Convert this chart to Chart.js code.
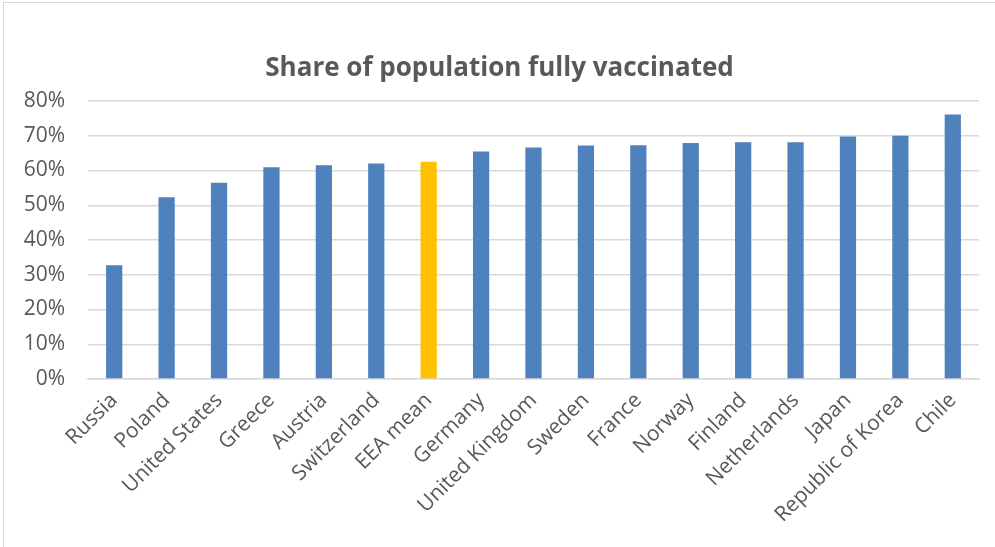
<!DOCTYPE html>
<html><head><meta charset="utf-8">
<script src="https://cdn.jsdelivr.net/npm/chart.js@4"></script>
<style>
html,body{margin:0;padding:0;background:#fff;overflow:hidden;width:995px;height:547px;}
#frame{position:absolute;left:3px;top:2px;width:1012px;height:560px;border:1px solid #d9d9d9;box-sizing:border-box;}
#wrap{position:absolute;left:0;top:0;width:1010px;height:544px;}
</style></head><body>
<div id="frame"><div id="wrap"><canvas id="c"></canvas></div></div>
<script>
const categories = ["Russia","Poland","United States","Greece","Austria","Switzerland","EEA mean","Germany","United Kingdom","Sweden","France","Norway","Finland","Netherlands","Japan","Republic of Korea","Chile"];
const shareVaccinated = [32.7,52.3,56.5,60.9,61.5,62.0,62.5,65.5,66.6,67.2,67.3,67.9,68.1,68.1,69.8,70.0,76.1];
const highlighted = ["EEA mean"];
const yTicks = [0,10,20,30,40,50,60,70,80];
const chartTitle = "Share of population fully vaccinated";

const BLUE = "#4F81BD", GOLD = "#FFC000", TEXT = "#595959", GRID = "#d9d9d9";
const barColors = categories.map(c => highlighted.includes(c) ? GOLD : BLUE);

new Chart(document.getElementById("c"), {
  type: "bar",
  data: {
    labels: categories,
    datasets: [{
      data: shareVaccinated,
      backgroundColor: barColors,
      borderWidth: 0,
      categoryPercentage: 1,
      barPercentage: 0.31
    }]
  },
  options: {
    responsive: true,
    maintainAspectRatio: false,
    animation: false,
    layout: { padding: { left: 16, right: 35, top: 0, bottom: 0 } },
    plugins: {
      legend: { display: false },
      tooltip: { enabled: false },
      title: {
        display: true,
        text: chartTitle,
        color: TEXT,
        font: { family: "'Open Sans'", size: 26, weight: "bold", lineHeight: 1.2 },
        padding: { top: 50, bottom: 16.8 }
      }
    },
    scales: {
      x: {
        grid: { display: false, drawTicks: false },
        border: { color: GRID, width: 1.5 },
        ticks: {
          color: TEXT,
          autoSkip: false,
          minRotation: 45,
          maxRotation: 45,
          padding: 9,
          font: { family: "'Open Sans'", size: 21 }
        },
        afterFit: s => { s.height = 168; }
      },
      y: {
        min: 0,
        max: 80,
        afterBuildTicks: s => { s.ticks = yTicks.map(v => ({ value: v })); },
        grid: { color: GRID, lineWidth: 1.5, drawTicks: false },
        border: { display: false },
        ticks: {
          color: TEXT,
          padding: 23,
          font: { family: "'Open Sans'", size: 21 },
          callback: v => v + "%"
        },
        afterFit: s => { s.width = 68; }
      }
    }
  }
});
</script>
</body></html>
